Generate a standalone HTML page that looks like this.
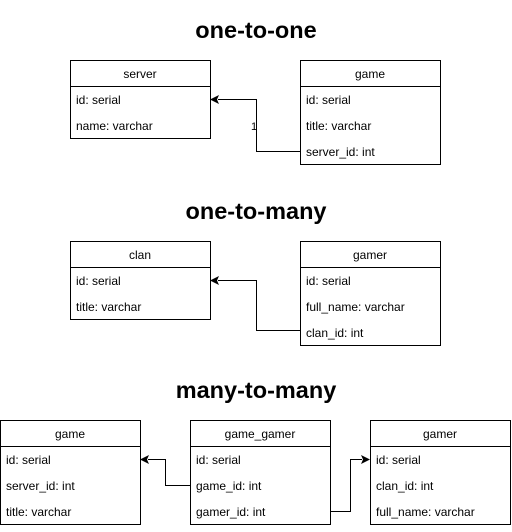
<!DOCTYPE html>
<html><head><style>html,body{margin:0;padding:0;background:#fff}</style></head><body>
<svg width="512" height="527" xmlns="http://www.w3.org/2000/svg" font-family="Liberation Sans, Arial, sans-serif" font-size="12">
<rect width="512" height="527" fill="#fff"/>
<g font-weight="bold" font-size="23.5" text-anchor="middle" fill="#000">
<text x="256" y="38">one-to-one</text>
<text x="256" y="219">one-to-many</text>
<text x="256" y="398">many-to-many</text>
</g>
<g fill="none" stroke="#000" stroke-width="1">
<rect x="70.5" y="60.5" width="140" height="78"/><line x1="70" y1="86.5" x2="210" y2="86.5"/>
<rect x="300.5" y="60.5" width="140" height="104"/><line x1="300" y1="86.5" x2="440" y2="86.5"/>
<rect x="70.5" y="241.5" width="140" height="78"/><line x1="70" y1="267.5" x2="210" y2="267.5"/>
<rect x="300.5" y="241.5" width="140" height="104"/><line x1="300" y1="267.5" x2="440" y2="267.5"/>
<rect x="0.5" y="420.5" width="140" height="104"/><line x1="0" y1="446.5" x2="140" y2="446.5"/>
<rect x="190.5" y="420.5" width="140" height="104"/><line x1="190" y1="446.5" x2="330" y2="446.5"/>
<rect x="370.5" y="420.5" width="140" height="104"/><line x1="370" y1="446.5" x2="510" y2="446.5"/>
<polyline points="300,151.5 256.5,151.5 256.5,99.5 218,99.5"/>
<polyline points="300,330.5 256.5,330.5 256.5,280.5 218,280.5"/>
<polyline points="190,485.5 165.5,485.5 165.5,459.5 148,459.5"/>
<polyline points="330,511.5 350.5,511.5 350.5,459.5 362,459.5"/>
</g>
<g fill="#000">
<polygon points="210,99.5 219,95 217,99.5 219,104"/>
<polygon points="210,280.5 219,276 217,280.5 219,285"/>
<polygon points="140,459.5 149,455 147,459.5 149,464"/>
<polygon points="370,459.5 361,455 363,459.5 361,464"/>
</g>
<g fill="#000">
<text x="251" y="130" font-size="11">1</text>
<g text-anchor="middle">
<text x="140" y="78">server</text><text x="370" y="78">game</text>
<text x="140" y="259">clan</text><text x="370" y="259">gamer</text>
<text x="70" y="438">game</text><text x="260" y="438">game_gamer</text><text x="440" y="438">gamer</text>
</g>
<text x="76" y="104">id: serial</text><text x="76" y="130">name: varchar</text>
<text x="306" y="104">id: serial</text><text x="306" y="130">title: varchar</text><text x="306" y="156">server_id: int</text>
<text x="76" y="285">id: serial</text><text x="76" y="311">title: varchar</text>
<text x="306" y="285">id: serial</text><text x="306" y="311">full_name: varchar</text><text x="306" y="337">clan_id: int</text>
<text x="6" y="464">id: serial</text><text x="6" y="490">server_id: int</text><text x="6" y="516">title: varchar</text>
<text x="196" y="464">id: serial</text><text x="196" y="490">game_id: int</text><text x="196" y="516">gamer_id: int</text>
<text x="376" y="464">id: serial</text><text x="376" y="490">clan_id: int</text><text x="376" y="516">full_name: varchar</text>
</g>
</svg>
</body></html>
